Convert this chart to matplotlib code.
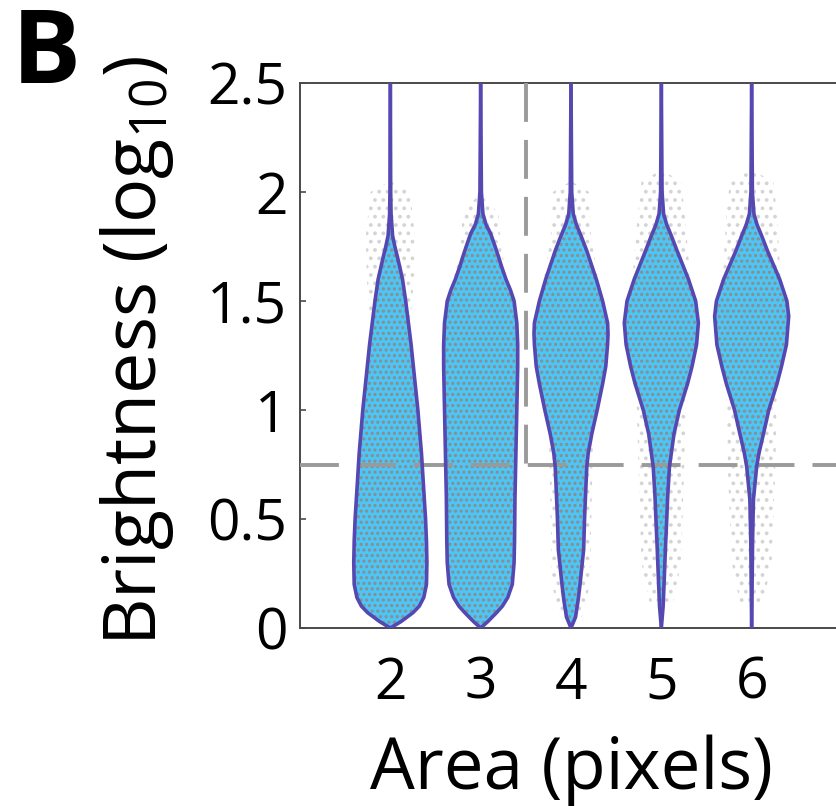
import matplotlib
matplotlib.use("Agg")
import matplotlib.pyplot as plt
import numpy as np

plt.rcParams['font.family'] = ['Open Sans', 'DejaVu Sans']
plt.rcParams['mathtext.fontset'] = 'custom'
plt.rcParams['mathtext.rm'] = 'Open Sans'
plt.rcParams['mathtext.it'] = 'Open Sans'
plt.rcParams['lines.scale_dashes'] = False
plt.rcParams['hatch.linewidth'] = 1.5

# ---------------- data ----------------
areas = [2, 3, 4, 5, 6]
tick_labels_x = ['2', '3', '4', '5', '6']
y_ticks = [0, 0.5, 1, 1.5, 2, 2.5]
y_tick_labels = ['0', '0.5', '1', '1.5', '2', '2.5']
threshold_brightness = 0.75
threshold_area = 3.5

# violin outline: brightness levels and half-widths (x units)
levels_2 = [0, 0.03, 0.07, 0.1, 0.14, 0.2, 0.3, 0.4, 0.5, 0.6, 0.7, 0.8, 0.9, 1.0,
            1.1, 1.2, 1.3, 1.4, 1.5, 1.6, 1.7, 1.75, 1.8, 1.9, 2.0, 2.5]
width_2 = [0, 0.12, 0.25, 0.32, 0.37, 0.40, 0.405, 0.40, 0.39, 0.375, 0.36, 0.345,
           0.325, 0.305, 0.28, 0.255, 0.23, 0.20, 0.17, 0.135, 0.08, 0.05, 0.025, 0.008, 0.004, 0]

levels_3 = [0, 0.03, 0.07, 0.1, 0.14, 0.2, 0.3, 0.4, 0.6, 0.8, 1.0, 1.1, 1.2, 1.3,
            1.4, 1.5, 1.55, 1.6, 1.66, 1.7, 1.75, 1.81, 1.85, 1.9, 2.0, 2.5]
width_3 = [0, 0.08, 0.175, 0.24, 0.30, 0.35, 0.37, 0.375, 0.38, 0.39, 0.40, 0.405,
           0.41, 0.41, 0.40, 0.37, 0.33, 0.28, 0.23, 0.20, 0.16, 0.11, 0.06, 0.025, 0.008, 0]

levels_4 = [0, 0.05, 0.13, 0.2, 0.3, 0.36, 0.5, 0.6, 0.74, 0.8, 0.89, 1.0, 1.12,
            1.2, 1.3, 1.35, 1.4, 1.5, 1.6, 1.73, 1.8, 1.85, 1.9, 2.0, 2.5]
width_4 = [0, 0.05, 0.08, 0.10, 0.125, 0.14, 0.15, 0.16, 0.175, 0.19, 0.23, 0.29,
           0.35, 0.385, 0.405, 0.41, 0.405, 0.35, 0.28, 0.175, 0.11, 0.06, 0.025, 0.008, 0]

levels_5 = [0, 0.1, 0.2, 0.36, 0.5, 0.6, 0.74, 0.8, 0.89, 1.0, 1.12, 1.2, 1.3,
            1.4, 1.5, 1.6, 1.73, 1.8, 1.85, 1.9, 2.0, 2.5]
width_5 = [0, 0.02, 0.03, 0.045, 0.06, 0.07, 0.09, 0.11, 0.14, 0.20, 0.29, 0.34,
           0.39, 0.41, 0.38, 0.30, 0.175, 0.11, 0.06, 0.025, 0.008, 0]

levels_6 = [0, 0.2, 0.4, 0.59, 0.74, 0.8, 0.89, 1.0, 1.12, 1.2, 1.3, 1.43, 1.5,
            1.6, 1.73, 1.8, 1.85, 1.9, 2.0, 2.5]
width_6 = [0, 0.005, 0.01, 0.02, 0.055, 0.08, 0.13, 0.19, 0.28, 0.33, 0.385, 0.41,
           0.39, 0.31, 0.175, 0.11, 0.06, 0.025, 0.008, 0]

# envelope of the scattered raw points (brightness levels, half-widths)
halo_levels_2 = [1.4, 1.6, 1.8, 2.0, 2.05]
halo_width_2 = [0.22, 0.26, 0.27, 0.22, 0]
halo_levels_3 = [1.6, 1.75, 1.9, 2.0]
halo_width_3 = [0.3, 0.22, 0.20, 0]
halo_levels_4 = [0.05, 0.2, 0.6, 1.0, 1.6, 1.8, 2.0, 2.05]
halo_width_4 = [0.12, 0.21, 0.23, 0.25, 0.30, 0.22, 0.20, 0]
halo_levels_5 = [0.1, 0.3, 0.7, 1.0, 1.6, 1.85, 2.05, 2.1]
halo_width_5 = [0.12, 0.22, 0.25, 0.27, 0.32, 0.27, 0.22, 0]
halo_levels_6 = [0.1, 0.3, 0.7, 1.1, 1.6, 1.9, 2.05, 2.1]
halo_width_6 = [0.12, 0.22, 0.26, 0.28, 0.32, 0.28, 0.24, 0]

profiles = [(levels_2, width_2), (levels_3, width_3), (levels_4, width_4),
            (levels_5, width_5), (levels_6, width_6)]
halos = [(halo_levels_2, halo_width_2), (halo_levels_3, halo_width_3),
         (halo_levels_4, halo_width_4), (halo_levels_5, halo_width_5),
         (halo_levels_6, halo_width_6)]

# ---------------- style ----------------
fill_color = '#4cc6f6'
edge_color = '#5548b0'
dot_color = '#8c8c8c'
halo_dot_color = '#d4d4d4'
dash_color = '#9a9a9a'
spine_color = '#4a4a4a'

W, H = 836, 806
fig = plt.figure(figsize=(W / 100, H / 100), dpi=100)
ax_left, ax_right, ax_top, ax_bottom = 300, 842, 83, 628
ax = fig.add_axes([ax_left / W, 1 - ax_bottom / H,
                   (ax_right - ax_left) / W, (ax_bottom - ax_top) / H])

for c, (lv, wd), (hl, hw) in zip(areas, profiles, halos):
    lv = np.asarray(lv, float)
    wd = np.asarray(wd, float)
    hl = np.asarray(hl, float)
    hw = np.asarray(hw, float)
    # scattered points envelope
    ax.fill(np.concatenate([c - hw, (c + hw)[::-1]]),
            np.concatenate([hl, hl[::-1]]),
            facecolor='none', edgecolor=halo_dot_color, hatch='..', lw=0, zorder=1)
    # violin body with the raw points on top
    xs = np.concatenate([c - wd, (c + wd)[::-1]])
    ys = np.concatenate([lv, lv[::-1]])
    ax.fill(xs, ys, facecolor=fill_color, edgecolor='none', lw=0, zorder=2)
    ax.fill(xs, ys, facecolor='none', edgecolor=dot_color, hatch='...', lw=0, zorder=3)
    ax.plot(c - wd, lv, color=edge_color, lw=2.6, zorder=5, solid_capstyle='round')
    ax.plot(c + wd, lv, color=edge_color, lw=2.6, zorder=5, solid_capstyle='round')

dash = (0, (28, 13))
ax.axhline(threshold_brightness, color=dash_color, lw=2.8, linestyle=dash, zorder=4)
ax.plot([threshold_area, threshold_area], [2.5, threshold_brightness],
        color=dash_color, lw=2.8, linestyle=dash, zorder=4)

ax.set_xlim(1, 7)
ax.set_ylim(0, 2.5)
ax.set_xticks(areas)
ax.set_xticklabels(tick_labels_x)
ax.set_yticks(y_ticks)
ax.set_yticklabels(y_tick_labels)
ax.tick_params(direction='in', length=4, width=1.2, color=spine_color,
               top=True, right=True, labelsize=41, labelcolor='black')
ax.tick_params(axis='x', pad=20)
ax.tick_params(axis='y', pad=9)
for s in ax.spines.values():
    s.set_color(spine_color)
    s.set_linewidth(1.4)

fig.text(571 / W, 1 - 770 / H, 'Area (pixels)', ha='center', va='center', fontsize=51)
fig.text(137 / W, 1 - 351 / H, 'Brightness (log$_{10}$)', ha='center', va='center',
         rotation=90, fontsize=53)
fig.text(12 / W, 1 - 83 / H, 'B', ha='left', va='baseline', fontsize=74, fontweight='bold')

fig.savefig('out.png', dpi=100)
